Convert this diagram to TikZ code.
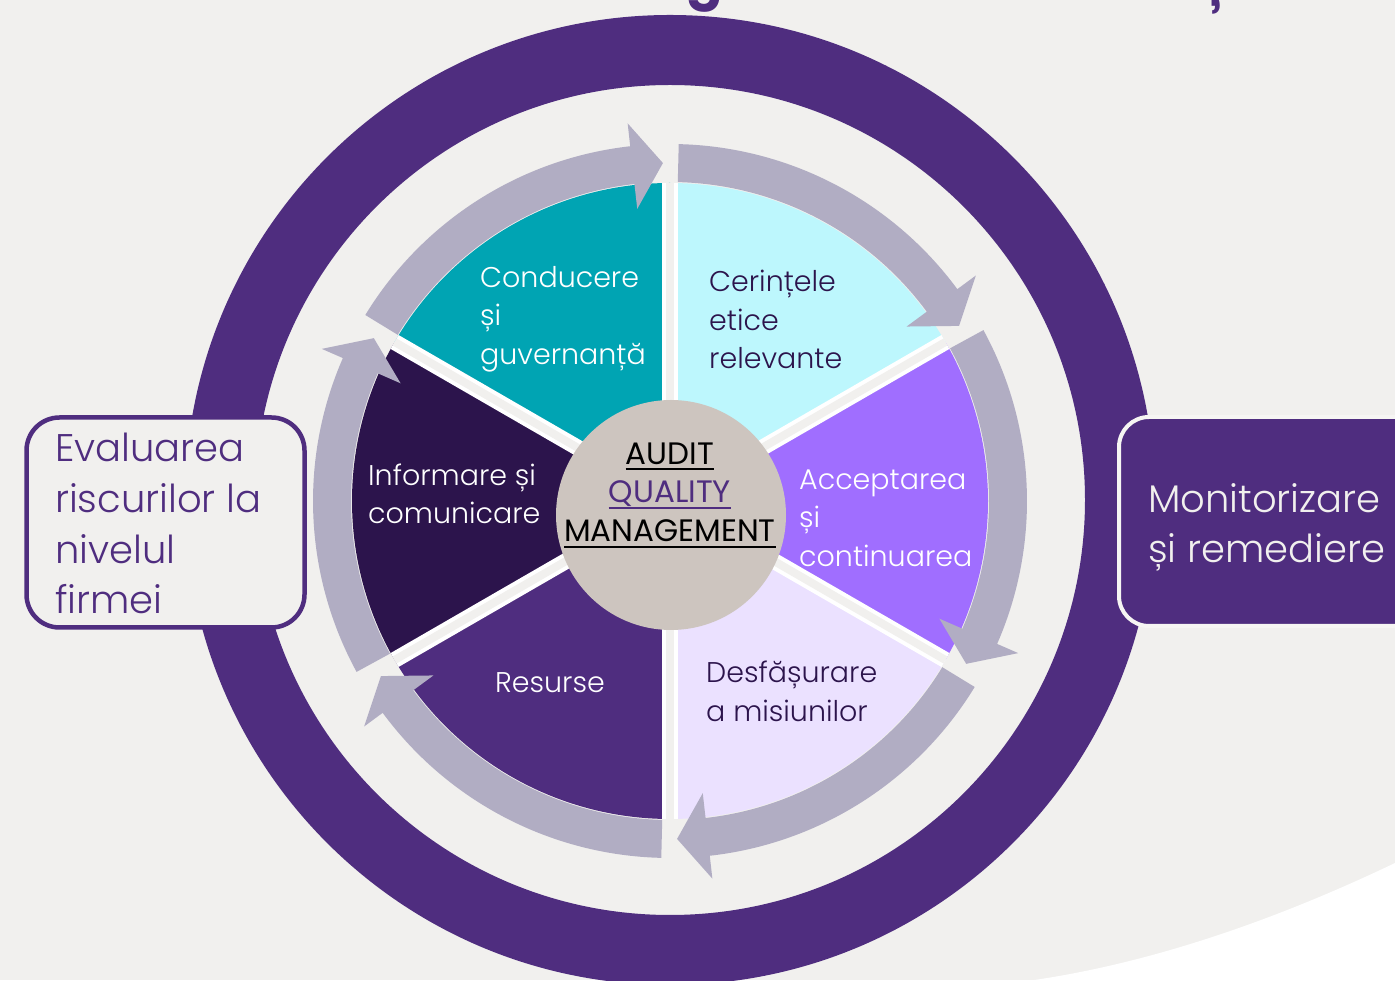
\documentclass[tikz,border=0pt]{standalone}
\usepackage{fontspec}
\setmainfont{Poppins Light}
\newfontfamily\popbold{Poppins Bold}
\newfontfamily\popreg{Poppins}
\definecolor{bg}{HTML}{F1F0EE}
\definecolor{gtpurple}{HTML}{4F2D7F}
\definecolor{teal1}{HTML}{00A4B3}
\definecolor{cyan1}{HTML}{BDF7FD}
\definecolor{violet1}{HTML}{A06EFF}
\definecolor{lav1}{HTML}{EBE1FF}
\definecolor{dark1}{HTML}{2C144C}
\definecolor{arrowgray}{HTML}{B1ADC3}
\definecolor{hub}{HTML}{CDC5BF}
\definecolor{boxedge}{HTML}{F6F5F3}
\tikzset{
  seclabel/.style={anchor=base west, inner sep=0pt, font=\fontsize{28.5}{34}\selectfont},
  boxlabel/.style={anchor=base west, inner sep=0pt, font=\fontsize{38.5}{46}\selectfont},
  hublabel/.style={anchor=base, inner xsep=0pt, inner ysep=0pt, font=\popreg\fontsize{31}{36}\selectfont},
  uline/.style={line width=2pt},
  cyclearrow/.style={fill=arrowgray}
}
\begin{document}
\begin{tikzpicture}[x=1pt,y=1pt]
\useasboundingbox (0,0) rectangle (1395,980);
\fill[bg] (0,0) rectangle (1395,980);
% white region bottom right
\fill[white] (1395,117) .. controls (1280,62) and (1150,15) .. (1020,-2) -- (1395,-2) -- cycle;
% cut-off title fragments
\begin{scope}
\clip (0,0) rectangle (1395,980);
\node[anchor=base west, inner sep=0pt, text=gtpurple, font=\popbold\fontsize{54}{60}\selectfont] (titleg) at (686,982) {g};
\node[anchor=base west, inner sep=0pt, text=gtpurple, font=\popbold\fontsize{54}{60}\selectfont] (titlet) at (1204,982) {ț};
\end{scope}
% outer ring
\fill[gtpurple, even odd rule] (670,480) circle[radius=485pt] (670,480) circle[radius=415pt];
% sectors
\begin{scope}[shift={(670,479)}]
\fill[teal1] (0,0) -- (90:318pt) arc[start angle=90, end angle=150, radius=318pt] -- cycle;
\fill[cyan1] (0,0) -- (30:318pt) arc[start angle=30, end angle=90, radius=318pt] -- cycle;
\fill[violet1] (0,0) -- (-30:318pt) arc[start angle=-30, end angle=30, radius=318pt] -- cycle;
\fill[lav1] (0,0) -- (-90:318pt) arc[start angle=-90, end angle=-30, radius=318pt] -- cycle;
\fill[gtpurple] (0,0) -- (-150:318pt) arc[start angle=-150, end angle=-90, radius=318pt] -- cycle;
\fill[dark1] (0,0) -- (150:318pt) arc[start angle=150, end angle=210, radius=318pt] -- cycle;
\foreach \a in {30,90,150,210,270,330}{
  \draw[white, line width=16pt] (0,0) -- (\a:318pt);
  \draw[bg, line width=8pt] (0,0) -- (\a:318pt);
}
\foreach \s in {150,90,30,-30,-90,-150}{
  \pgfmathsetmacro\ta{\s-1.4}
  \pgfmathsetmacro\hb{\s-53.6}
  \pgfmathsetmacro\tp{\s-58.8}
  \fill[cyclearrow] (\ta:357pt) arc[start angle=\ta, end angle=\hb, radius=357pt]
     -- (\hb:380pt) -- (\tp:338pt) -- (\hb:294pt) -- (\hb:319pt)
     arc[start angle=\hb, end angle=\ta, radius=319pt] -- cycle;
}
\end{scope}
% hub
\fill[hub] (671,465) circle[radius=115pt];
\node[hublabel, text=black] (hubA) at (670,515) {AUDIT};
\node[hublabel, text=gtpurple] (hubQ) at (670,477) {QUALITY};
\node[hublabel, text=black] (hubM) at (670,438) {MANAGEMENT};
\draw[uline, black] ([yshift=-4pt]hubA.base west) -- ([yshift=-4pt]hubA.base east);
\draw[uline, gtpurple] ([yshift=-5pt]hubQ.base west) -- ([yshift=-5pt]hubQ.base east);
\draw[uline, black] ([yshift=-5pt]hubM.base west) -- ([yshift=-5pt]hubM.base east);
% sector labels
\node[seclabel, text=white] (c1) at (480,692) {Conducere};
\node[seclabel, text=white] (c2) at (480,654) {și};
\node[seclabel, text=white] (c3) at (480,615) {guvernanță};
\node[seclabel, text=dark1] (e1) at (709,688) {Cerințele};
\node[seclabel, text=dark1] (e2) at (709,649) {etice};
\node[seclabel, text=dark1] (e3) at (709,611) {relevante};
\node[seclabel, text=white] (a1) at (799,490) {Acceptarea};
\node[seclabel, text=white] (a2) at (799,452) {și};
\node[seclabel, text=white] (a3) at (799,413) {continuarea};
\node[seclabel, text=dark1] (d1) at (706,297) {Desfășurare};
\node[seclabel, text=dark1] (d2) at (706,258) {a misiunilor};
\node[seclabel, text=white] (r1) at (495,287) {Resurse};
\node[seclabel, text=white] (i1) at (368,494) {Informare și};
\node[seclabel, text=white] (i2) at (368,456) {comunicare};
% side boxes
\node[draw=gtpurple, line width=4.5pt, fill=bg, rounded corners=33pt, minimum width=278pt, minimum height=210pt, inner sep=0pt] (leftbox) at (165.5,457.5) {};
\node[boxlabel, text=gtpurple] (l1) at (55,518) {Evaluarea};
\node[boxlabel, text=gtpurple] (l2) at (55,467) {riscurilor la};
\node[boxlabel, text=gtpurple] (l3) at (55,416) {nivelul};
\node[boxlabel, text=gtpurple] (l4) at (55,366) {firmei};
\node[draw=boxedge, line width=4pt, fill=gtpurple, rounded corners=30pt, minimum width=311pt, minimum height=209pt, inner sep=0pt] (rightbox) at (1274.5,458.5) {};
\node[boxlabel, text=bg] (m1) at (1148,467) {Monitorizare};
\node[boxlabel, text=bg] (m2) at (1148,417) {și remediere};
\end{tikzpicture}
\end{document}
